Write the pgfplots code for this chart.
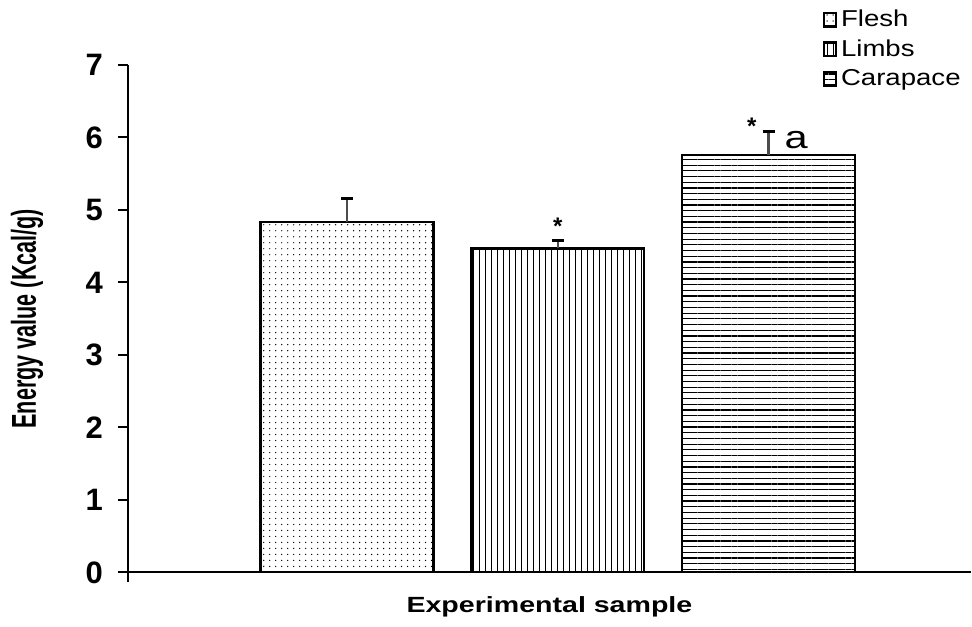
\documentclass[border=0pt]{standalone}
\usepackage{pgfplots}
\pgfplotsset{compat=1.18}
\usepackage{fontspec}
\setmainfont{Liberation Sans}
\usetikzlibrary{patterns.meta}
\begin{document}
\begin{tikzpicture}
\begin{axis}[
  name=ax,
  scale only axis,
  width=422pt, height=254pt,
  xmin=-1.04, xmax=2.96,
  ymin=0, ymax=7,
  axis lines*=left,
  axis line style={line width=1pt, -},
  xtick=\empty,
  ytick={0,1,...,7},
  tick align=outside,
  major tick length=5pt,
  y tick style={line width=1pt, black},
  yticklabel style={font=\fontsize{15.5}{17}\selectfont\bfseries, xshift=-4pt},
  /pgf/number format/assume math mode=true,
  ybar, bar width=0.82, bar shift=0,
  every axis y label/.style={at={(axis description cs:0,0.5)}, xshift=-50.5pt, rotate=90, anchor=center},
  every axis x label/.style={at={(axis description cs:0.5,0)}, yshift=-17pt, anchor=center},
  ylabel={\fontsize{10.8}{12}\selectfont\bfseries\scalebox{1}[1.6]{Energy value (Kcal/g)}},
  xlabel={\fontsize{11}{13}\selectfont\bfseries\scalebox{1.3}[1]{Experimental sample}},
  legend style={at={(axis description cs:1.0,1.125)}, anchor=north east, draw=none, fill=none,
    font=\fontsize{11.5}{12}\selectfont, cells={anchor=west}, row sep=1pt,
    /tikz/every even column/.append style={column sep=1pt}},
  legend image code/.code={\draw[line width=1.1pt,#1] (0pt,-3.4pt) rectangle (5.8pt,3.4pt);},
  error bars/y dir=plus, error bars/y explicit,
  error bars/error bar style={line width=1.2pt, black!70},
  error bars/error mark options={rotate=90, mark size=3pt, line width=1.6pt, black},
]
\addplot[draw=black, line width=1.2pt, pattern={Dots[distance=3pt, radius=0.35pt]}]
  coordinates {(0,4.83) +- (0,0.33)};
\addplot[draw=black, line width=1.2pt, pattern={Lines[angle=90, distance=3pt, line width=0.6pt]}]
  coordinates {(1,4.47) +- (0,0.11)};
\addplot[draw=black, line width=1.2pt, pattern={Lines[angle=0, distance=2.85pt, line width=0.6pt]}]
  coordinates {(2,5.76) +- (0,0.32)};
\legend{\scalebox{1.2}[1]{Flesh},\scalebox{1.2}[1]{Limbs},\scalebox{1.2}[1]{Carapace}}
\node[font=\fontsize{12}{12}\selectfont\bfseries] at (axis cs:1,4.78) {*};
\node[font=\fontsize{12}{12}\selectfont\bfseries] at (axis cs:1.92,6.16) {*};
\node[font=\fontsize{16}{16}\selectfont] at (axis cs:2.13,5.97) {\scalebox{1.3}[1]{a}};
\end{axis}
\draw[line width=1pt] (ax.south west) -- ++(0,-5pt);
\path (ax.south west) ++(-64pt,-27pt);
\path (ax.north east) ++(0,32.5pt);
\end{tikzpicture}
\end{document}
